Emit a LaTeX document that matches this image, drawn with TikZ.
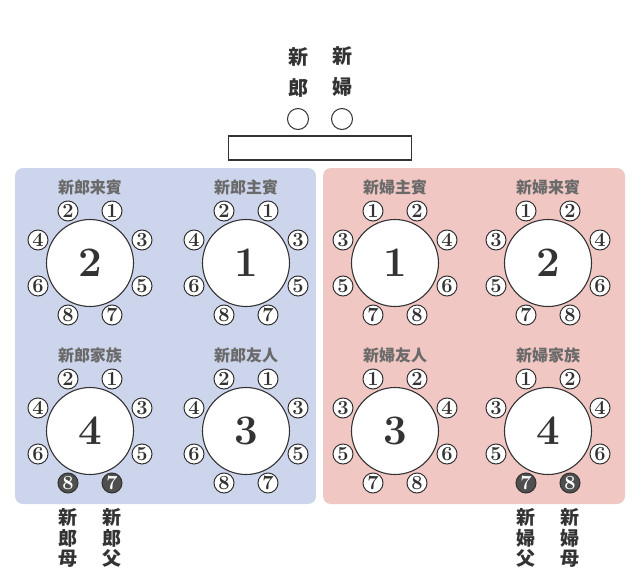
\documentclass[tikz,border=0pt]{standalone}
\usepackage{fontspec}
\newfontfamily\jpfont{Noto Sans CJK JP}
\definecolor{groomblue}{HTML}{CDD5EC}
\definecolor{bridepink}{HTML}{F1C7C3}
\definecolor{titlegray}{HTML}{6A6A6A}
\definecolor{inkgray}{HTML}{333333}
\definecolor{seatgray}{HTML}{4F4F4F}
\begin{document}
\begin{tikzpicture}[x=1pt,y=-1pt,
	seat/.style={circle,draw=inkgray,line width=1pt,fill=white,minimum size=20pt,inner sep=0pt,
		font=\fontsize{20}{20}\selectfont\bfseries,text=inkgray},
	tablec/.style={circle,draw=inkgray,line width=1.1pt,fill=white,minimum size=87pt,inner sep=0pt,
		font=\fontsize{42}{42}\selectfont\bfseries,text=inkgray},
	grouptitle/.style={font=\jpfont\bfseries\fontsize{16}{16}\selectfont,text=titlegray},
	namelabel/.style={align=center,inner sep=0pt,font=\jpfont\bfseries\fontsize{19}{20.5}\selectfont,text=inkgray}
	]
	\useasboundingbox (0,0) rectangle (641,573);
	\def\dx{22}
	
	% panels
	\fill[groomblue,rounded corners=8pt] (15,168) rectangle (316,504);
	\fill[bridepink,rounded corners=8pt] (323,168) rectangle (625,504);
	
	% high table
	\node[draw=inkgray,line width=1.1pt,minimum width=183pt,minimum height=24pt,inner sep=0pt] (stage) at (320,148) {};
	\node[circle,draw=inkgray,line width=1pt,minimum size=21pt,inner sep=0pt] (groom) at (298,119) {};
	\node[circle,draw=inkgray,line width=1pt,minimum size=21pt,inner sep=0pt] (bride) at (342,119) {};
	\node[namelabel,font=\jpfont\bfseries\fontsize{20}{31}\selectfont] (groomtxt) at (298,72) {新\\郎};
	\node[namelabel,font=\jpfont\bfseries\fontsize{20}{31}\selectfont] (bridetxt) at (342,72) {新\\婦};
	
	% groom side
	\foreach \t/\cx/\cy/\num/\name/\bfill/\btext in {
		gr2/90/263/2/新郎来賓/white/inkgray, gr1/246/263/1/新郎主賓/white/inkgray,
		gr4/90/431/4/新郎家族/seatgray/white, gr3/246/431/3/新郎友人/white/inkgray}{
		\node[tablec] (\t) at (\cx,\cy) {\num};
		\node[grouptitle] (\t-title) at (\cx,\cy-76) {\name};
		\foreach \p/\ox/\oy/\n in {tl/-\dx/-52/2, tr/\dx/-52/1, lu/-52/-23/4, ru/52/-23/3,
			ll/-52/23/6, rl/52/23/5}
			\node[seat] (\t-\p) at (\cx+\ox,\cy+\oy) {\n};
		\node[seat,fill=\bfill,text=\btext] (\t-bl) at (\cx-\dx,\cy+52) {8};
		\node[seat,fill=\bfill,text=\btext] (\t-br) at (\cx+\dx,\cy+52) {7};
	}
	
	% bride side
	\foreach \t/\cx/\cy/\num/\name/\bfill/\btext in {
		br1/395/263/1/新婦主賓/white/inkgray, br2/548/263/2/新婦来賓/white/inkgray,
		br3/395/431/3/新婦友人/white/inkgray, br4/548/431/4/新婦家族/seatgray/white}{
		\node[tablec] (\t) at (\cx,\cy) {\num};
		\node[grouptitle] (\t-title) at (\cx,\cy-76) {\name};
		\foreach \p/\ox/\oy/\n in {tl/-\dx/-52/1, tr/\dx/-52/2, lu/-52/-23/3, ru/52/-23/4,
			ll/-52/23/5, rl/52/23/6}
			\node[seat] (\t-\p) at (\cx+\ox,\cy+\oy) {\n};
		\node[seat,fill=\bfill,text=\btext] (\t-bl) at (\cx-\dx,\cy+52) {7};
		\node[seat,fill=\bfill,text=\btext] (\t-br) at (\cx+\dx,\cy+52) {8};
	}
	
	% parents
	\node[namelabel] (gmother) at (68,538) {新\\郎\\母};
	\node[namelabel] (gfather) at (112,538) {新\\郎\\父};
	\node[namelabel] (bfather) at (526,538) {新\\婦\\父};
	\node[namelabel] (bmother) at (570,538) {新\\婦\\母};
\end{tikzpicture}
\end{document}
